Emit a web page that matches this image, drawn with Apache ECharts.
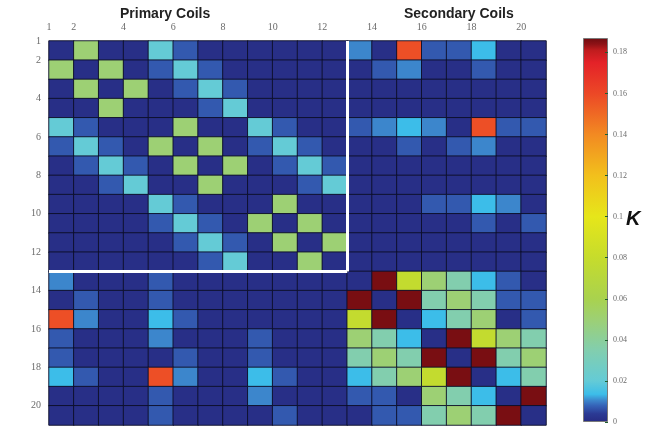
<!DOCTYPE html>
<html><head><meta charset="utf-8">
<script src="https://cdn.jsdelivr.net/npm/echarts@6/dist/echarts.min.js"></script>
<style>html,body{margin:0;padding:0;background:#fff}#c{width:656px;height:427px}</style>
</head><body><div id="c"></div>
<script>
// ---- data ----
const N = 0.001, B1 = 0.007, B2 = 0.0105, C = 0.0135, T = 0.02, M = 0.035, G = 0.05, Y = 0.078, R = 0.158, D = 0.186;
const coilIndex = [1,2,3,4,5,6,7,8,9,10,11,12,13,14,15,16,17,18,19,20];
const primaryCount = 12;
const axisTickLabels = [1,2,4,6,8,10,12,14,16,18,20];
const kMax = 0.187;
const row1  = [N,G,N,N,T,B1,N,N,N,N,N,N, B2,N,R,B1,B1,C,N,N];
const row2  = [G,N,G,N,B1,T,B1,N,N,N,N,N, N,B1,B2,N,N,B1,N,N];
const row3  = [N,G,N,G,N,B1,T,B1,N,N,N,N, N,N,N,N,N,N,N,N];
const row4  = [N,N,G,N,N,N,B1,T,N,N,N,N, N,N,N,N,N,N,N,N];
const row5  = [T,B1,N,N,N,G,N,N,T,B1,N,N, B1,B2,C,B2,N,R,B1,B1];
const row6  = [B1,T,B1,N,G,N,G,N,B1,T,B1,N, N,N,B1,N,B1,B2,N,N];
const row7  = [N,B1,T,B1,N,G,N,G,N,B1,T,B1, N,N,N,N,N,N,N,N];
const row8  = [N,N,B1,T,N,N,G,N,N,N,B1,T, N,N,N,N,N,N,N,N];
const row9  = [N,N,N,N,T,B1,N,N,N,G,N,N, N,N,N,B1,B1,C,B2,N];
const row10 = [N,N,N,N,B1,T,B1,N,G,N,G,N, N,N,N,N,N,B1,N,B1];
const row11 = [N,N,N,N,N,B1,T,B1,N,G,N,G, N,N,N,N,N,N,N,N];
const row12 = [N,N,N,N,N,N,B1,T,N,N,G,N, N,N,N,N,N,N,N,N];
const row13 = [B2,N,N,N,B1,N,N,N,N,N,N,N, N,D,Y,G,M,C,B1,N];
const row14 = [N,B1,N,N,B1,N,N,N,N,N,N,N, D,N,D,M,G,M,B1,B1];
const row15 = [R,B2,N,N,C,B1,N,N,N,N,N,N, Y,D,N,C,M,G,N,B1];
const row16 = [B1,N,N,N,B2,N,N,N,B1,N,N,N, G,M,C,N,D,Y,G,M];
const row17 = [B1,N,N,N,N,B1,N,N,B1,N,N,N, M,G,M,D,N,D,M,G];
const row18 = [C,B1,N,N,R,B2,N,N,C,B1,N,N, C,M,G,Y,D,N,C,M];
const row19 = [N,N,N,N,B1,N,N,N,B2,N,N,N, B1,B1,N,G,M,C,N,D];
const row20 = [N,N,N,N,B1,N,N,N,N,B1,N,N, N,B1,B1,M,G,M,D,N];
const rows = [row1,row2,row3,row4,row5,row6,row7,row8,row9,row10,row11,row12,row13,row14,row15,row16,row17,row18,row19,row20];

// ---- style: colormap ----
const cmap = [
  [0, '#272b82'], [0.004, '#2b3a94'], [0.008, '#3563b8'], [0.0105, '#3c86cc'],
  [0.0135, '#3cbde9'], [0.02, '#64cbd6'], [0.035, '#82ceae'], [0.05, '#9dd074'],
  [0.06, '#a9d24e'], [0.08, '#c6dc2c'], [0.10, '#e6e61a'], [0.12, '#f2c01c'],
  [0.14, '#f28a22'], [0.16, '#ec4826'], [0.175, '#e42228'], [0.181, '#c01c1e'],
  [0.184, '#8e1216'], [0.187, '#6e0c10']
];
function hex2rgb(h){return [1,3,5].map(i=>parseInt(h.substr(i,2),16));}
function sample(v){
  for (let i=1;i<cmap.length;i++){
    if (v<=cmap[i][0]){
      const [v0,c0]=cmap[i-1],[v1,c1]=cmap[i];
      const t=(v-v0)/(v1-v0), a=hex2rgb(c0), b=hex2rgb(c1);
      return 'rgb('+a.map((x,k)=>Math.round(x+(b[k]-x)*t)).join(',')+')';
    }
  }
  return cmap[cmap.length-1][1];
}
const nSamples = 375;
const vmColors = [];
for (let i=0;i<nSamples;i++) vmColors.push(sample(kMax*i/(nSamples-1)));

const heatData = [];
rows.forEach((r,yi)=>r.forEach((v,xi)=>heatData.push([xi,yi,v])));

const labelFont = {fontFamily:'Liberation Serif', fontSize:10, color:'#6a6a6a'};
const edge = primaryCount + 1;

const chart = echarts.init(document.getElementById('c'), null, {renderer:'canvas'});
chart.setOption({
  animation:false,
  backgroundColor:'#fff',
  title:[
    {text:'Primary Coils', left:120, top:7, padding:0, textStyle:{fontFamily:'Liberation Sans', fontSize:14, fontWeight:'bold', color:'#222'}},
    {text:'Secondary Coils', left:404, top:7, padding:0, textStyle:{fontFamily:'Liberation Sans', fontSize:14, fontWeight:'bold', color:'#222'}},
    {text:'K', left:626, top:209, padding:0, textStyle:{fontFamily:'Liberation Sans', fontSize:20, fontWeight:'bold', fontStyle:'italic', color:'#111'}}
  ],
  grid:[
    {left:49, top:41, width:497, height:384},
    {left:583, top:38, width:25, height:384}
  ],
  xAxis:[
    {type:'category', gridIndex:0, data:coilIndex, show:false},
    {type:'value', gridIndex:0, min:1, max:21, interval:1, position:'top',
     axisLine:{show:false}, axisTick:{show:false}, splitLine:{show:false},
     axisLabel:Object.assign({margin:9, formatter:v=>axisTickLabels.includes(v)?String(v):''}, labelFont)},
    {type:'category', gridIndex:1, data:['K'], show:false}
  ],
  yAxis:[
    {type:'category', gridIndex:0, data:coilIndex, inverse:true, show:false},
    {type:'value', gridIndex:0, min:1, max:21, interval:1, inverse:true, position:'left',
     axisLine:{show:false}, axisTick:{show:false}, splitLine:{show:false},
     axisLabel:Object.assign({margin:8, formatter:v=>axisTickLabels.includes(v)?String(v):''}, labelFont)},
    {type:'value', gridIndex:1, min:0, max:kMax, interval:0.02, position:'right', z:5,
     axisLine:{show:false}, splitLine:{show:false},
     axisTick:{show:true, inside:true, length:3, lineStyle:{color:'#1e5e2e', width:1}},
     axisLabel:{showMaxLabel:false, margin:5, fontFamily:'Liberation Serif', fontSize:8, color:'#6a6a6a',
       formatter:v=>String(+v.toFixed(2))}}
  ],
  visualMap:{type:'continuous', show:false, min:0, max:kMax, seriesIndex:0, inRange:{color:vmColors}},
  series:[
    {type:'heatmap', xAxisIndex:0, yAxisIndex:0, data:heatData,
     itemStyle:{borderColor:'rgba(12,14,40,0.9)', borderWidth:1}},
    {type:'bar', xAxisIndex:2, yAxisIndex:2, data:[kMax], barWidth:'100%',
     itemStyle:{borderColor:'#7a7a7a', borderWidth:1,
       color:{type:'linear', x:0, y:1, x2:0, y2:0, colorStops:cmap.map(([v,c])=>({offset:v/kMax, color:c}))}}},
    {type:'line', xAxisIndex:1, yAxisIndex:1, data:[], z:10,
     markLine:{silent:true, symbol:['none','none'], label:{show:false},
       lineStyle:{color:'#ffffff', width:3, type:'solid'},
       data:[[{coord:[edge,1]},{coord:[edge,edge]}],[{coord:[1,edge]},{coord:[edge,edge]}]]}}
  ]
});
</script></body></html>
